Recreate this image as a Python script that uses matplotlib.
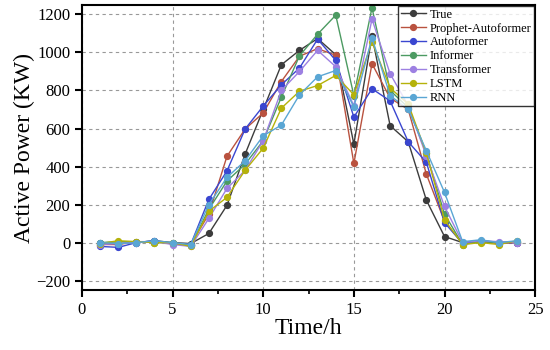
import matplotlib
matplotlib.use('Agg')
import numpy as np
import matplotlib.pyplot as plt
from matplotlib.ticker import MultipleLocator

plt.rcParams['font.family'] = ['Liberation Serif', 'DejaVu Serif']

hours = np.arange(1, 25)

true_vals = [0, -5, 0, 10, 0, -5, 48, 196, 465, 700, 935, 1011, 1073, 988, 518, 1087, 615, 530, 223, 32, 0, 10, 0, 5]
prophet_autoformer = [-10, -10, 5, 5, -5, -10, 150, 454, 597, 682, 847, 980, 1020, 985, 416, 941, 760, 700, 360, 112, -5, 5, -5, 0]
autoformer = [-20, -25, 0, 10, -5, -10, 227, 377, 597, 718, 830, 918, 1070, 958, 660, 809, 745, 530, 422, 105, -5, 10, 0, 0]
informer = [0, 5, 5, 0, 0, -15, 175, 324, 412, 536, 765, 982, 1096, 1196, 773, 1235, 800, 710, 470, 150, -10, 5, 0, 5]
transformer = [-10, -5, 0, 5, -10, -20, 127, 285, 380, 536, 800, 900, 1011, 925, 720, 1175, 888, 720, 455, 190, 0, 10, 5, 0]
lstm = [-5, 10, 5, 0, 0, -20, 165, 238, 380, 497, 707, 796, 826, 879, 777, 1057, 813, 729, 470, 120, -10, 0, -10, 10]
rnn = [0, -5, 0, 10, 0, -10, 200, 343, 430, 562, 618, 777, 872, 905, 713, 1077, 773, 700, 483, 264, 5, 15, 0, 10]

names = ['True', 'Prophet-Autoformer', 'Autoformer', 'Informer', 'Transformer', 'LSTM', 'RNN']
series = [true_vals, prophet_autoformer, autoformer, informer, transformer, lstm, rnn]
colors = ['#3c3c3c', '#b9523f', '#3a46d0', '#4c9a62', '#9d80e2', '#b5b20a', '#5aa6d4']

fig = plt.figure(figsize=(5.5, 3.5), dpi=100)
ax = fig.add_axes([0.149, 0.171, 0.824, 0.815])

for name, vals, c in zip(names, series, colors):
    ax.plot(hours, vals, '-o', color=c, lw=1.0, ms=4.2, label=name)

ax.set_xlim(0, 25)
ax.set_ylim(-250, 1250)
ax.xaxis.set_major_locator(MultipleLocator(5))
ax.xaxis.set_minor_locator(MultipleLocator(2.5))
ax.yaxis.set_major_locator(MultipleLocator(200))
ax.grid(True, which='major', ls=(0, (3, 3)), color='#999999', lw=0.8)
ax.tick_params(which='major', direction='out', length=5, width=1.5, labelsize=12)
ax.tick_params(which='minor', direction='out', length=3, width=1.2)
for s in ax.spines.values():
    s.set_linewidth(1.5)

ax.set_xlabel('Time/h', fontsize=17, labelpad=0)
ax.set_ylabel('Active Power (KW)', fontsize=17, labelpad=1)

leg = ax.legend(loc='upper right', fontsize=9, frameon=True, fancybox=False,
                edgecolor='black', borderaxespad=0.1, handlelength=2,
                labelspacing=0.15, borderpad=0.2, handletextpad=0.3)
leg.get_frame().set_linewidth(1.0)

fig.savefig('out.png', dpi=100)
